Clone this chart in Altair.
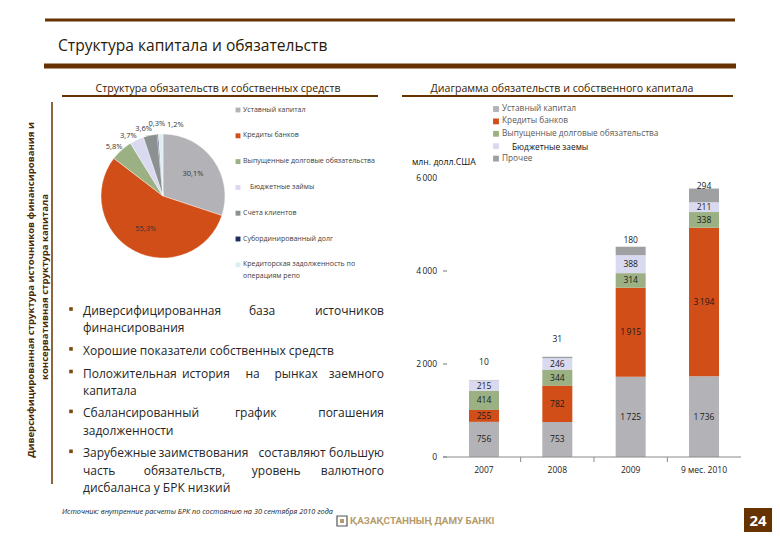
import altair as alt
import pandas as pd

# ---------------- data ----------------
pie_names = ["Уставный капитал", "Кредиты банков", "Выпущенные долговые обязательства",
             "Бюджетные займы", "Счета клиентов", "Субординированный долг",
             "Кредиторская задолженность по операциям репо"]
pie_values = [30.1, 55.3, 5.8, 3.7, 3.6, 0.3, 1.2]

bar_categories = ["2007", "2008", "2009", "9 мес. 2010"]
bar_series = ["Уставный капитал", "Кредиты банков", "Выпущенные долговые обязательства",
              "Бюджетные заемы", "Прочее"]
charter_capital = [756, 753, 1725, 1736]
bank_loans = [255, 782, 1915, 3194]
debt_securities = [414, 344, 314, 338]
budget_loans = [215, 246, 388, 211]
other = [10, 31, 180, 294]
y_ticks = [0, 2000, 4000, 6000]

title = "Структура капитала и обязательств"
sub_left = "Структура обязательств и собственных средств"
sub_right = "Диаграмма обязательств и собственного капитала"
side_lines = ["Диверсифицированная структура источников финансирования и",
              "консервативная структура капитала"]
bullets = [
    ["Диверсифицированная база источников", "финансирования"],
    ["Хорошие показатели собственных средств"],
    ["Положительная история на рынках заемного", "капитала"],
    ["Сбалансированный график погашения", "задолженности"],
    ["Зарубежные заимствования составляют большую", "часть обязательств, уровень валютного",
     "дисбаланса у БРК низкий"],
]
unit_label = "млн. долл.США"
source_note = "Источник: внутренние расчеты БРК по состоянию на 30 сентября 2010 года"
logo_text = "ҚАЗАҚСТАННЫҢ ДАМУ БАНКІ"
page_no = "24"

# ---------------- styles ----------------
FONT = "Open Sans"
BROWN = "#663300"
pie_colors = ["#B3B3B7", "#D14E19", "#9CB183", "#D9D9F0", "#8B9090", "#1F2D5E", "#DDEEF2"]
bar_colors = ["#B3B3B7", "#D14E19", "#9CB183", "#D9D9F0", "#9EA0A2"]
M = 8  # page margin


def fmt(v):
    return f"{int(v):,}".replace(",", "\u2009")


def px_text(rows, size, color, align="left", baseline="middle", weight="normal",
            angle=0, style="normal", font=FONT, line_break=None):
    df = pd.DataFrame(rows, columns=["x", "y", "t"])
    df["x"] = df["x"] - M
    df["y"] = df["y"] - M
    kw = dict(fontSize=size, color=color, align=align, baseline=baseline,
              fontWeight=weight, angle=angle, fontStyle=style, font=font)
    if line_break:
        kw["lineBreak"] = line_break
        kw["lineHeight"] = 12
    return alt.Chart(df).mark_text(**kw).encode(
        x=alt.X("x:Q", scale=None, axis=None),
        y=alt.Y("y:Q", scale=None, axis=None),
        text="t:N")


def hrule(x1, x2, y, w, color=BROWN):
    return alt.Chart(pd.DataFrame({"a": [0]})).mark_rule(color=color, strokeWidth=w).encode(
        x=alt.value(x1 - M), x2=alt.value(x2 - M), y=alt.value(y - M))


def vrule(x, y1, y2, w, color=BROWN):
    return alt.Chart(pd.DataFrame({"a": [0]})).mark_rule(color=color, strokeWidth=w).encode(
        x=alt.value(x - M), y=alt.value(y1 - M), y2=alt.value(y2 - M))


def rect(x1, x2, y1, y2, fill, stroke=None, sw=0):
    kw = dict(color=fill)
    if stroke:
        kw = dict(fill=fill, stroke=stroke, strokeWidth=sw)
    return alt.Chart(pd.DataFrame({"a": [0]})).mark_rect(**kw).encode(
        x=alt.value(x1 - M), x2=alt.value(x2 - M), y=alt.value(y1 - M), y2=alt.value(y2 - M))


layers = []

# ---------------- slide frame ----------------
layers += [hrule(45, 735, 20, 3), hrule(44, 736, 66, 5),
           hrule(62, 378, 96, 2), hrule(402, 733, 96, 2),
           vrule(52, 102, 484, 1.5)]
layers.append(px_text([(58, 46, title)], 15.6, "#2a1a0a"))
layers.append(px_text([(218, 89, sub_left), (562, 89, sub_right)], 10.6, "#3a2200", align="center"))
layers.append(px_text([(31, 290, side_lines[0]), (45, 287, side_lines[1])], 9.6, "#4a2a05",
                      align="center", weight="bold", angle=270))

# ---------------- bullets ----------------
X0, X1, CW = 83, 384, 6.35
rows_l, rows_c, rows_r, bullet_pts = [], [], [], []
y = 311
for para in bullets:
    bullet_pts.append((71, y - 2))
    for i, line in enumerate(para):
        justified = i < len(para) - 1
        words = line.split()
        if not justified:
            rows_l.append((X0, y, line))
        else:
            widths = [len(w) * CW for w in words]
            gap = (X1 - X0 - sum(widths)) / (len(words) - 1)
            pos = X0
            for j, (w, wd) in enumerate(zip(words, widths)):
                if j == 0:
                    rows_l.append((X0, y, w))
                elif j == len(words) - 1:
                    rows_r.append((X1, y, w))
                else:
                    rows_c.append((pos + wd / 2, y, w))
                pos += wd + gap
        y += 17.3
    y += 5.3
layers.append(px_text(rows_l, 12, "#262626"))
layers.append(px_text(rows_c, 12, "#262626", align="center"))
layers.append(px_text(rows_r, 12, "#262626", align="right"))
bdf = pd.DataFrame(bullet_pts, columns=["x", "y"])
bdf["x"] -= M
bdf["y"] -= M
layers.append(alt.Chart(bdf).mark_square(size=13, color="#7a4a10", opacity=1).encode(
    x=alt.X("x:Q", scale=None, axis=None), y=alt.Y("y:Q", scale=None, axis=None)))

# ---------------- footer ----------------
layers.append(px_text([(62, 512, source_note)], 7.3, "#222222", style="italic"))
layers.append(rect(337, 347, 516, 526, "white", stroke="#555555", sw=1.2))
layers.append(rect(340, 344, 519, 523, "#B49C6C"))
layers.append(px_text([(350, 521, logo_text)], 9.8, "#B49C6C", weight="bold",
                      font="Roboto"))
layers.append(rect(744, 772, 508, 532, BROWN))
layers.append(px_text([(758, 521, page_no)], 15, "white", align="center", weight="bold"))

# ---------------- pie ----------------
df_pie = pd.DataFrame({"name": pie_names, "value": pie_values, "ord": range(len(pie_names))})
df_pie["lab"] = [f"{v:.1f}".replace(".", ",") + "%" for v in pie_values]
pie_cscale = alt.Scale(domain=pie_names, range=pie_colors)
CX, CY = 163 - M, 196 - M
pie_base = alt.Chart(df_pie).encode(
    theta=alt.Theta("value:Q", stack=True),
    order=alt.Order("ord:Q", sort="ascending"),
    x=alt.value(CX), y=alt.value(CY))
layers.append(pie_base.mark_arc(radius=62, stroke="white", strokeWidth=0.4).encode(
    color=alt.Color("name:N", scale=pie_cscale, legend=None)))


def pie_label(names, radius, dx=0, dy=0):
    cond = " || ".join([f"datum.name == '{n}'" for n in names])
    return pie_base.transform_calculate(
        t=f"({cond}) ? datum.lab : ''").mark_text(
        radius=radius, dx=dx, dy=dy, fontSize=7.5, color="#333333", font=FONT).encode(
        text="t:N")


layers.append(pie_label(pie_names[:2], 37))
layers.append(pie_label([pie_names[2]], 70, dx=-2, dy=3))
layers.append(pie_label([pie_names[3]], 70, dx=-5, dy=3))
layers.append(pie_label([pie_names[4]], 70, dx=-5, dy=2))
layers.append(pie_label([pie_names[5]], 72, dx=0, dy=0))
layers.append(pie_label([pie_names[6]], 72, dx=15, dy=1))

# pie legend
leg_rows = []
for i, n in enumerate(pie_names):
    leg_rows.append((238 - M, 110 + 25.8 * i - M, n))
pleg = pd.DataFrame(leg_rows, columns=["x", "y", "name"])
layers.append(alt.Chart(pleg).mark_square(size=24, opacity=1).encode(
    x=alt.X("x:Q", scale=None, axis=None), y=alt.Y("y:Q", scale=None, axis=None),
    color=alt.Color("name:N", scale=pie_cscale, legend=None)))
ptxt = [(250 if i == 3 else 243, 110 + 25.8 * i - 4.5,
         n.replace(" по ", " по\n")) for i, n in enumerate(pie_names)]
layers.append(px_text(ptxt, 7, "#404040", baseline="top", line_break="\n"))

# ---------------- stacked bars ----------------
rows = []
for s_i, (s, vals) in enumerate(zip(bar_series, [charter_capital, bank_loans, debt_securities,
                                                   budget_loans, other])):
    for c, v in zip(bar_categories, vals):
        rows.append({"cat": c, "series": s, "value": v, "ord": s_i, "lab": fmt(v)})
df_bar = pd.DataFrame(rows)

xscale = alt.Scale(domain=bar_categories, range=[447.3 - M, 740.7 - M], paddingInner=0, paddingOuter=0)
yscale = alt.Scale(domain=[0, 6000], range=[457 - M, 178 - M], nice=False, zero=False)
bar_cscale = alt.Scale(domain=bar_series, range=bar_colors)

layers.append(alt.Chart(df_bar).mark_bar(size=30).encode(
    x=alt.X("cat:N", scale=xscale, axis=None, sort=bar_categories),
    y=alt.Y("value:Q", stack="zero", scale=yscale, axis=None),
    color=alt.Color("series:N", scale=bar_cscale, legend=None),
    order=alt.Order("ord:Q", sort="ascending")))

stacked = alt.Chart(df_bar).transform_stack(
    stack="value", groupby=["cat"], sort=[alt.SortField("ord", order="ascending")],
    as_=["y0", "y1"]).transform_calculate(mid="(datum.y0 + datum.y1) / 2")

layers.append(stacked.transform_filter("datum.series != 'Прочее'").mark_text(
    fontSize=8.5, color="#1a1a1a", font=FONT).encode(
    x=alt.X("cat:N", scale=xscale, axis=None, sort=bar_categories),
    y=alt.Y("mid:Q", scale=yscale, axis=None, stack=None), text="lab:N"))
for cats, dy in [(["2007", "2008"], -18), (["2009"], -7), (["9 мес. 2010"], -3)]:
    cond = " || ".join([f"datum.cat == '{c}'" for c in cats])
    layers.append(stacked.transform_filter(f"datum.series == 'Прочее' && ({cond})").mark_text(
        fontSize=8.5, color="#1a1a1a", font=FONT, dy=dy).encode(
        x=alt.X("cat:N", scale=xscale, axis=None, sort=bar_categories),
        y=alt.Y("y1:Q", scale=yscale, axis=None, stack=None), text="lab:N"))

# axes drawn by hand through the same scales
df_yt = pd.DataFrame({"v": y_ticks, "lab": [fmt(v) for v in y_ticks]})
layers.append(alt.Chart(df_yt).mark_text(fontSize=8.5, color="#1a1a1a", align="right", font=FONT).encode(
    x=alt.value(437 - M), y=alt.Y("v:Q", scale=yscale, axis=None), text="lab:N"))
layers.append(alt.Chart(df_yt).transform_filter("datum.v < 6000").mark_rule(color="#777777").encode(
    x=alt.value(443 - M), x2=alt.value(447 - M), y=alt.Y("v:Q", scale=yscale, axis=None)))
layers.append(alt.Chart(pd.DataFrame({"v": [0]})).mark_rule(color="#8a8a8a", strokeWidth=1).encode(
    x=alt.value(443 - M), x2=alt.value(741 - M), y=alt.Y("v:Q", scale=yscale, axis=None)))
df_cat = pd.DataFrame({"cat": bar_categories})
layers.append(alt.Chart(df_cat).transform_filter("datum.cat != '2007'").mark_rule(color="#8a8a8a").encode(
    x=alt.X("cat:N", scale=xscale, axis=None, sort=bar_categories, bandPosition=0),
    y=alt.value(457 - M), y2=alt.value(462 - M)))
layers.append(alt.Chart(df_cat).mark_text(fontSize=8.5, color="#1a1a1a", font=FONT).encode(
    x=alt.X("cat:N", scale=xscale, axis=None, sort=bar_categories),
    y=alt.value(470 - M), text="cat:N"))
layers.append(px_text([(412, 162, unit_label)], 8.7, "#111111"))

# bar legend
bl = [(496 - M, 109 + 12.4 * i - M, s) for i, s in enumerate(bar_series)]
bldf = pd.DataFrame(bl, columns=["x", "y", "series"])
layers.append(alt.Chart(bldf).mark_square(size=34, opacity=1).encode(
    x=alt.X("x:Q", scale=None, axis=None), y=alt.Y("y:Q", scale=None, axis=None),
    color=alt.Color("series:N", scale=bar_cscale, legend=None)))
layers.append(px_text([(502, 109 + 12.4 * i, s) for i, s in enumerate(bar_series) if i != 3],
                      8.3, "#595959"))
layers.append(px_text([(512, 147.3, bar_series[3])], 8.4, "#111111"))

chart = alt.layer(*layers).properties(
    width=764, height=524, padding=0,
    autosize=alt.AutoSizeParams(type="none"),
    background="white",
).resolve_scale(color="independent", x="independent", y="independent").configure_view(stroke=None)

chart.save("out.html", embed_options={"renderer": "svg", "actions": False})
